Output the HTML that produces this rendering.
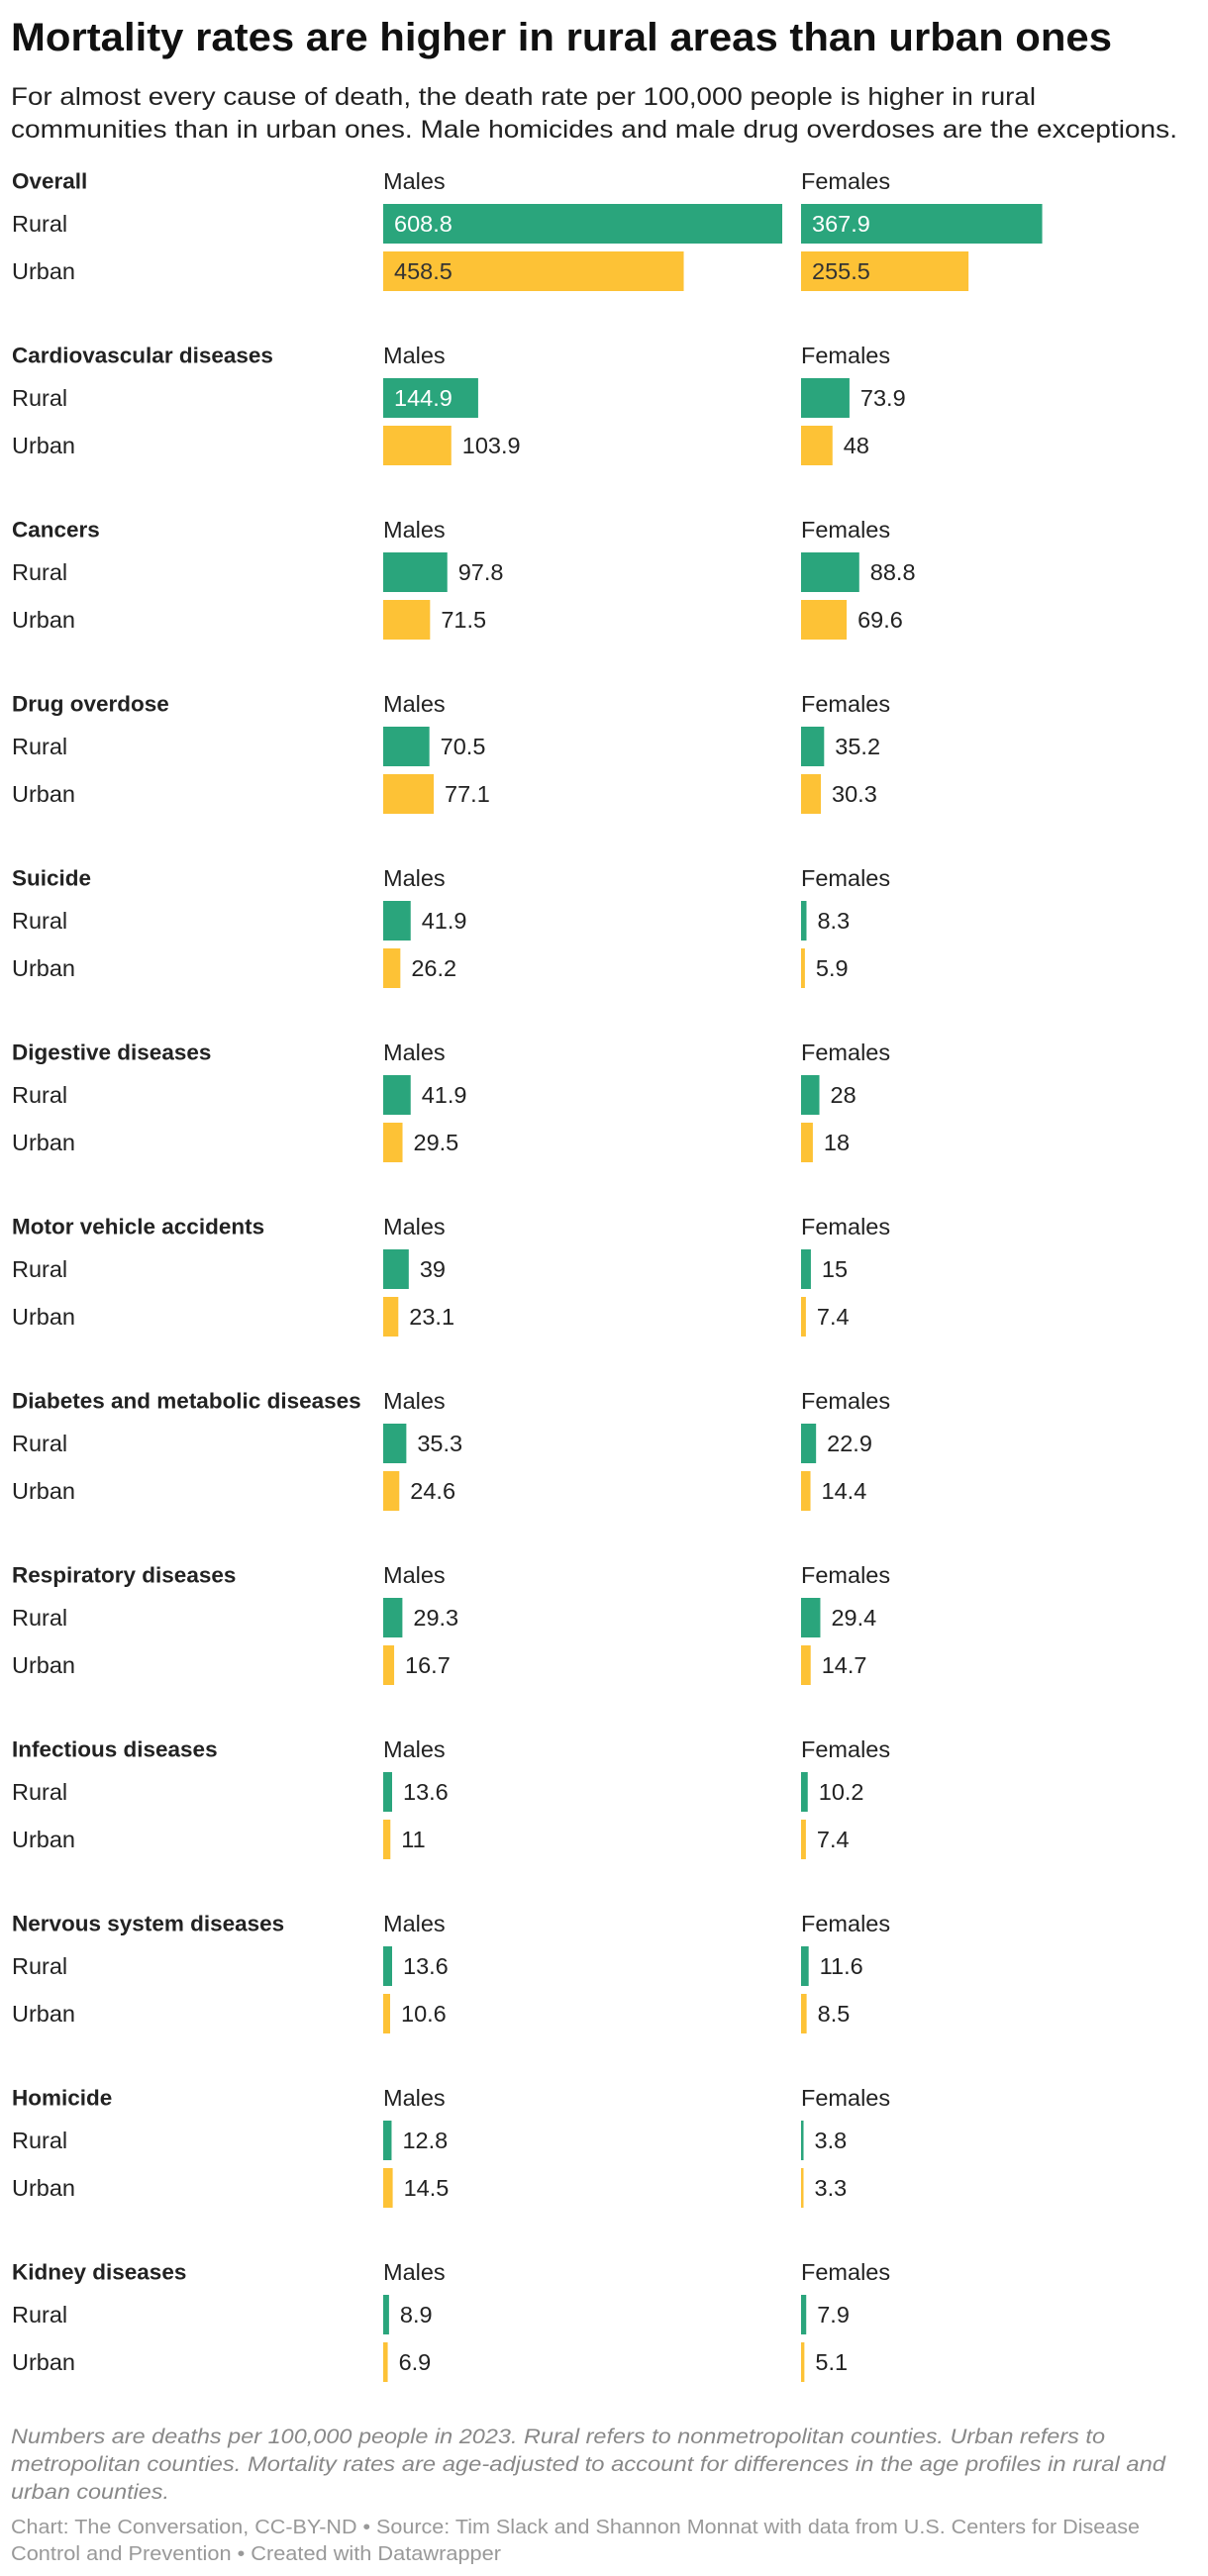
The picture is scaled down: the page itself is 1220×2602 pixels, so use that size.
<!DOCTYPE html>
<html><head><meta charset="utf-8"><style>
html,body{margin:0;padding:0;background:#fff;}
svg{display:block;font-family:"Liberation Sans",sans-serif;}
</style></head><body>
<svg id="chart" width="1220" height="2602" viewBox="0 0 1220 2602" xmlns="http://www.w3.org/2000/svg">
<text x="11" y="51" font-size="40" font-weight="bold" fill="#111" textLength="1112" lengthAdjust="spacingAndGlyphs">Mortality rates are higher in rural areas than urban ones</text>
<text x="11" y="106" font-size="25" fill="#222" textLength="1035" lengthAdjust="spacingAndGlyphs">For almost every cause of death, the death rate per 100,000 people is higher in rural</text>
<text x="11" y="139" font-size="25" fill="#222" textLength="1178" lengthAdjust="spacingAndGlyphs">communities than in urban ones. Male homicides and male drug overdoses are the exceptions.</text>
<g id="rows"></g>
<text x="11" y="2468" font-size="21" font-style="italic" fill="#888" textLength="1105" lengthAdjust="spacingAndGlyphs">Numbers are deaths per 100,000 people in 2023. Rural refers to nonmetropolitan counties. Urban refers to</text>
<text x="11" y="2496" font-size="21" font-style="italic" fill="#888" textLength="1166" lengthAdjust="spacingAndGlyphs">metropolitan counties. Mortality rates are age-adjusted to account for differences in the age profiles in rural and</text>
<text x="11" y="2524" font-size="21" font-style="italic" fill="#888" textLength="160" lengthAdjust="spacingAndGlyphs">urban counties.</text>
<text x="11" y="2559" font-size="20" fill="#999" textLength="1140" lengthAdjust="spacingAndGlyphs">Chart: The Conversation, CC-BY-ND • Source: Tim Slack and Shannon Monnat with data from U.S. Centers for Disease</text>
<text x="11" y="2586" font-size="20" fill="#999" textLength="495" lengthAdjust="spacingAndGlyphs">Control and Prevention • Created with Datawrapper</text>
</svg>
<script>
const categories = ["Overall","Cardiovascular diseases","Cancers","Drug overdose","Suicide","Digestive diseases","Motor vehicle accidents","Diabetes and metabolic diseases","Respiratory diseases","Infectious diseases","Nervous system diseases","Homicide","Kidney diseases"];
const maleRural = [608.8,144.9,97.8,70.5,41.9,41.9,39,35.3,29.3,13.6,13.6,12.8,8.9];
const maleUrban = [458.5,103.9,71.5,77.1,26.2,29.5,23.1,24.6,16.7,11,10.6,14.5,6.9];
const femaleRural = [367.9,73.9,88.8,35.2,8.3,28,15,22.9,29.4,10.2,11.6,3.8,7.9];
const femaleUrban = [255.5,48,69.6,30.3,5.9,18,7.4,14.4,14.7,7.4,8.5,3.3,5.1];

const NS = "http://www.w3.org/2000/svg";
const g = document.getElementById("rows");
const x = v => v * 0.662;
const sectionY = i => 183 + i * 176;
function txt(x0, y0, s, opts) {
  const t = document.createElementNS(NS, "text");
  t.setAttribute("x", x0); t.setAttribute("y", y0);
  t.setAttribute("font-size", opts.size || 23.5);
  t.setAttribute("fill", opts.fill || "#222");
  t.setAttribute("dominant-baseline", "central");
  if (opts.bold) t.setAttribute("font-weight", "bold");
  t.textContent = s;
  g.appendChild(t);
  return t;
}
function bar(x0, yTop, v, color, inkDark) {
  const w = Math.max(x(v), 2.5);
  const r = document.createElementNS(NS, "rect");
  r.setAttribute("x", x0); r.setAttribute("y", yTop);
  r.setAttribute("width", w); r.setAttribute("height", 40);
  r.setAttribute("fill", color);
  
  
  g.appendChild(r);
  let t;
  if (w > 80) t = txt(x0 + 11, yTop + 20, String(v), {fill: inkDark ? "#333" : "#fff"});
  else t = txt(x0 + w + 11, yTop + 20, String(v), {fill: "#222"});
  
  
}
categories.forEach((c, i) => {
  const y = sectionY(i);
  let t = txt(12, y, c, {bold: true, size: 22.5});
  
  
  t = txt(387, y, "Males", {});
  
  
  t = txt(809, y, "Females", {});
  
  
  t = txt(12, y + 43, "Rural", {});
  
  
  t = txt(12, y + 91, "Urban", {});
  
  
  bar(387, y + 23, maleRural[i], "#2aa57c", false);
  bar(387, y + 71, maleUrban[i], "#fdc236", true);
  bar(809, y + 23, femaleRural[i], "#2aa57c", false);
  bar(809, y + 71, femaleUrban[i], "#fdc236", true);
});
</script>
</body></html>
